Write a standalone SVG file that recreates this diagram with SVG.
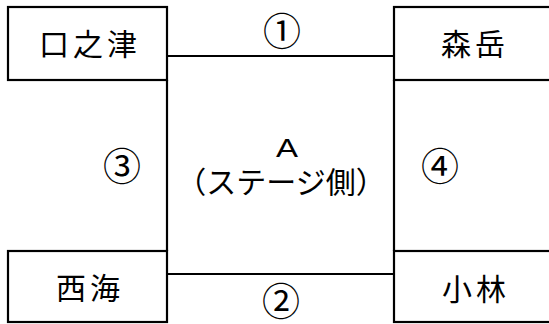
<svg xmlns="http://www.w3.org/2000/svg" width="549" height="324" viewBox="0 0 549 324">
<style>
.box{fill:#fff;stroke:#000;stroke-width:2.2}
.con{stroke:#000;stroke-width:2.2;fill:none}
.t{font-family:"Noto Sans CJK JP","Noto Sans",sans-serif;font-size:30px;text-anchor:middle;dominant-baseline:central;fill:#000;letter-spacing:4px}
.n{font-family:"Noto Sans CJK JP",sans-serif;font-size:38px;text-anchor:middle;dominant-baseline:central;fill:#000}
.a{font-family:"Liberation Sans",Arial,sans-serif;font-size:26px;text-anchor:middle;fill:#000}
.c{font-family:"Noto Sans CJK JP",sans-serif;font-size:30px;text-anchor:middle;dominant-baseline:central;fill:#000}
</style>
<rect width="549" height="324" fill="#fff"/>
<g id="connectors">
<line class="con" x1="167" y1="56" x2="394" y2="56"/>
<line class="con" x1="167" y1="274" x2="394" y2="274"/>
<line class="con" x1="167" y1="80" x2="167" y2="251"/>
<line class="con" x1="394" y1="80" x2="394" y2="251"/>
</g>
<g id="kuchinotsu"><rect class="box" x="8" y="7" width="159" height="73"/><text class="t" x="90" y="42">口之津</text></g>
<g id="moritake"><rect class="box" x="394" y="7" width="160" height="73"/><text class="t" x="475" y="42">森岳</text></g>
<g id="saikai"><rect class="box" x="8" y="251" width="159" height="71"/><text class="t" x="90" y="286">西海</text></g>
<g id="kobayashi"><rect class="box" x="394" y="251" width="160" height="71"/><text class="t" x="476" y="287">小林</text></g>
<g id="stage"><text class="a" x="287" y="157" textLength="22" lengthAdjust="spacingAndGlyphs">A</text><text class="c" x="281" y="180">（ステージ側）</text></g>
<g id="labels">
<text class="n" x="282" y="28">①</text>
<text class="n" x="281" y="298">②</text>
<text class="n" x="122" y="163">③</text>
<text class="n" x="440" y="163">④</text>
</g>
</svg>
